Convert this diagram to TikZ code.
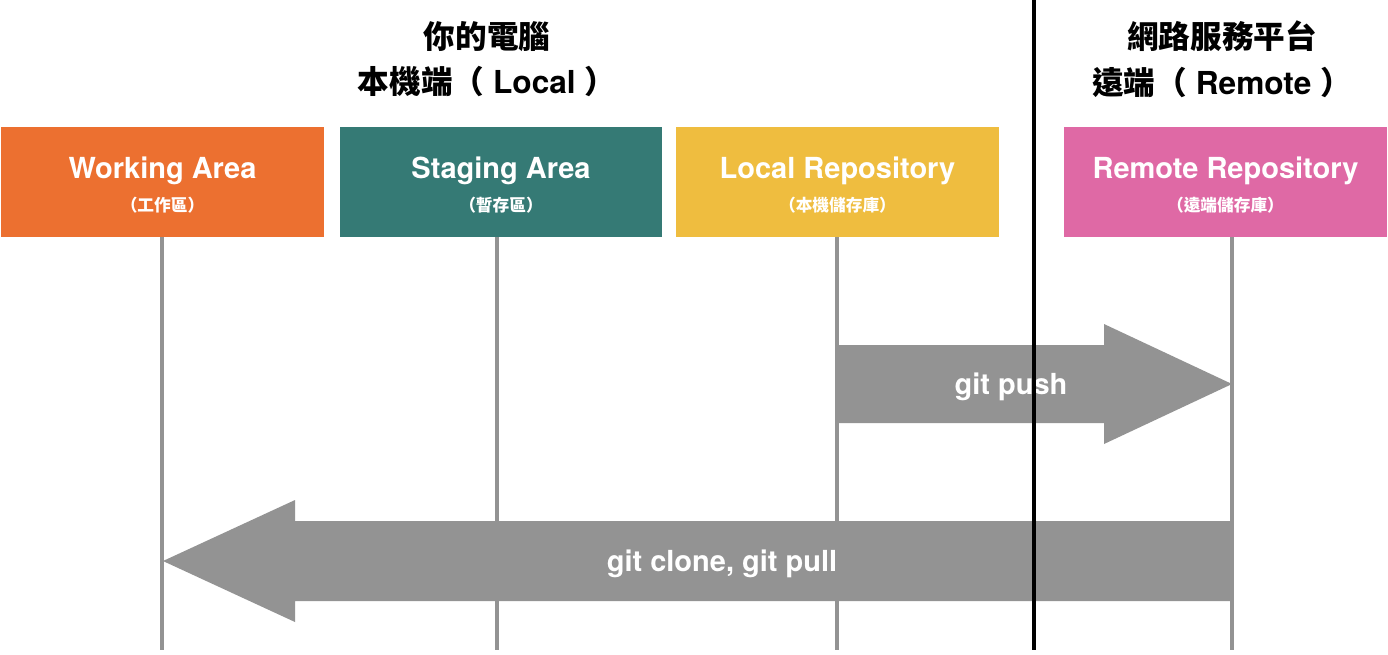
\documentclass[tikz,border=0pt]{standalone}
\usepackage{fontspec}
\setmainfont{TeX Gyre Heros}
\newfontfamily\cjk{Noto Sans CJK TC Bold}
\definecolor{gWork}{HTML}{EC7030}
\definecolor{gStage}{HTML}{357A75}
\definecolor{gLocal}{HTML}{EFBD3F}
\definecolor{gRemote}{HTML}{DF69A5}
\definecolor{gFlow}{HTML}{939393}
\usetikzlibrary{positioning,calc}

\begin{document}
\begin{tikzpicture}[x=0.02cm, y=-0.02cm,
  area/.style={fill=#1, minimum width=6.46cm, minimum height=2.2cm, inner sep=0pt, text=white, align=center, font=\fontsize{16.5}{20}\selectfont\bfseries},
  lane/.style={draw=gFlow, line width=2.3pt},
  flowarrow/.style={fill=gFlow},
  flowtext/.style={text=white, font=\fontsize{16.5}{20}\selectfont\bfseries},
  side/.style={align=center, font=\fontsize{18}{26}\selectfont\bfseries}]
\newcommand\areasub[1]{{\fontsize{9.5}{11}\selectfont\cjk （#1）}}
\newcommand\areatop{\rule{0pt}{15.5pt}}
\useasboundingbox (0,0) rectangle (1388,654);
% areas
\node[area=gWork] (work) at (162.5,182) {\areatop Working Area\\[-1pt]\areasub{工作區}};
\node[area=gStage] (stage) at (501,182) {\areatop Staging Area\\[-1pt]\areasub{暫存區}};
\node[area=gLocal] (local) at (837.5,182) {\areatop Local Repository\\[-1pt]\areasub{本機儲存庫}};
\node[area=gRemote] (remote) at (1225.5,182) {\areatop Remote Repository\\[-1pt]\areasub{遠端儲存庫}};
% lanes
\coordinate (workE) at (162,650); \coordinate (stageE) at (497,650);
\coordinate (localE) at (837,650); \coordinate (remoteE) at (1232,650);
\draw[lane] (work.south -| workE) -- (workE);
\draw[lane] (stage.south -| stageE) -- (stageE);
\draw[lane] (local.south -| localE) -- (localE);
\draw[lane] (remote.south -| remoteE) -- (remoteE);
% git push
\coordinate (pushS) at (837,384); \coordinate (pushE) at (1232,384);
\fill[flowarrow] ($(pushS)+(0,-39)$) -- ($(pushE)+(-128,-39)$) -- ($(pushE)+(-128,-60)$) -- (pushE)
  -- ($(pushE)+(-128,60)$) -- ($(pushE)+(-128,39)$) -- ($(pushS)+(0,39)$) -- cycle;
\node[flowtext] (push) at (1011,387) {git push};
% git clone, git pull
\coordinate (pullS) at (1232,561); \coordinate (pullE) at (163,561);
\fill[flowarrow] ($(pullS)+(0,-40)$) -- ($(pullE)+(132,-40)$) -- ($(pullE)+(132,-61)$) -- (pullE)
  -- ($(pullE)+(132,61)$) -- ($(pullE)+(132,40)$) -- ($(pullS)+(0,40)$) -- cycle;
\node[flowtext] (pull) at (722,564) {git clone, git pull};
% divider
\coordinate (divT) at (1034,0); \coordinate (divB) at (1034,650);
\draw[line width=2.3pt] (divT) -- (divB);
\node[side] (pc) at (487,59) {{\cjk 你的電腦}\\{\cjk 本機端（}~Local~{\cjk ）}};
\node[side] (cloud) at (1222,59) {{\cjk 網路服務平台}\\{\cjk 遠端（}~Remote~{\cjk ）}};
\end{tikzpicture}
\end{document}
